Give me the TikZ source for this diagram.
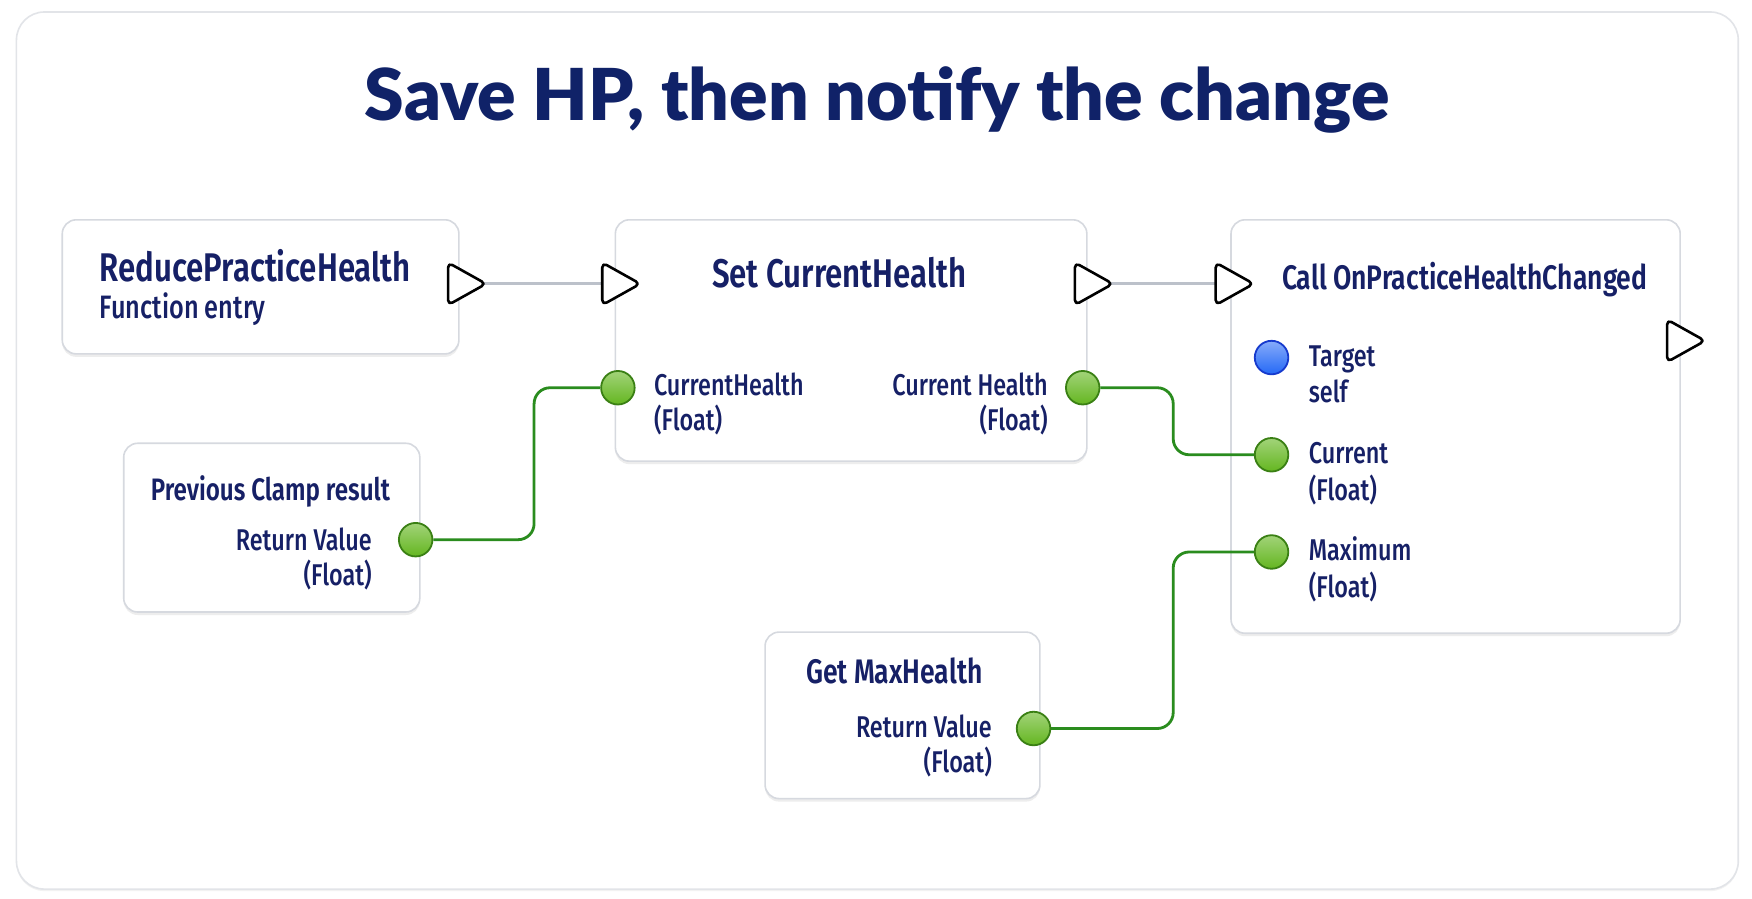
\documentclass[tikz,border=0pt]{standalone}
\usepackage{fontspec}
\setmainfont{Fira Sans}[UprightFont=* Medium, BoldFont=* SemiBold, FakeStretch=0.78]
\newfontfamily\titlefont{Lato}[BoldFont=* Black]
\usetikzlibrary{calc,shadows}

\newlength\px
\setlength\px{0.5587pt}

\definecolor{bpnavy}{RGB}{16,34,104}
\definecolor{bptext}{RGB}{22,32,102}
\definecolor{bpedge}{RGB}{214,217,223}
\definecolor{bpframe}{RGB}{226,228,232}
\definecolor{execgray}{RGB}{188,193,202}
\definecolor{wiregreen}{RGB}{42,140,30}
\definecolor{pingreen}{RGB}{100,182,32}
\definecolor{pingreenedge}{RGB}{58,128,20}
\definecolor{pinblue}{RGB}{36,104,246}
\definecolor{pinblueedge}{RGB}{22,58,205}

\tikzset{
  card/.style={draw=bpframe, fill=white, line width=0.8pt, rounded corners=14pt,
    anchor=north west, inner sep=0pt,
    drop shadow={shadow xshift=0pt, shadow yshift=-1pt, opacity=0.10}},
  bpnode/.style={draw=bpedge, fill=white, line width=0.8pt, rounded corners=7pt,
    anchor=north west, inner sep=0pt,
    drop shadow={shadow xshift=0pt, shadow yshift=-1.5pt, opacity=0.14}},
  nodetitle/.style={text=bptext, font=\bfseries\fontsize{20}{24}\selectfont, inner sep=0pt},
  pinlabel/.style={text=bptext, font=\fontsize{15}{18}\selectfont, inner sep=0pt},
  datapin/.style={circle, minimum size=30\px, inner sep=0pt,
    top color=pingreen!60!white, bottom color=pingreen,
    draw=pingreenedge, line width=0.9pt},
  targetpin/.style={datapin, top color=pinblue!55!white, bottom color=pinblue,
    draw=pinblueedge},
  execpin/.style={draw=black, fill=white, line width=1.3pt, rounded corners=2.5pt,
    line join=round},
  execwire/.style={draw=execgray, line width=1.4pt},
  datawire/.style={draw=wiregreen, line width=1.4pt, rounded corners=8pt}
}

\begin{document}
\begin{tikzpicture}[x=\px, y=-\px]
\useasboundingbox (0,0) rectangle (1568,804);
\fill[white] (0,0) rectangle (1568,804);
\node[card, minimum width=1541\px, minimum height=785\px] (card) at (14,10) {};
\node[anchor=base, inner sep=0pt, text=bpnavy, font=\titlefont\bfseries\fontsize{35.8}{40}\selectfont]
  (title) at (785,108) {Save HP, then notify the change};

% node boxes
\node[bpnode, minimum width=355\px, minimum height=120\px] (entry) at (55,196) {};
\node[bpnode, minimum width=422\px, minimum height=216\px] (set) at (550,196) {};
\node[bpnode, minimum width=402\px, minimum height=370\px] (call) at (1101,196) {};
\node[bpnode, minimum width=265\px, minimum height=151\px] (clamp) at (110,396) {};
\node[bpnode, minimum width=246\px, minimum height=149\px] (getmax) at (684,565) {};

% texts
\node[nodetitle, anchor=base west] (entryName) at (89,252) {ReducePracticeHealth};
\node[pinlabel, anchor=base west, font=\fontsize{16.2}{19}\selectfont] (entryKind) at (89,285) {Function entry};
\node[nodetitle, anchor=base west] (setName) at (637,257) {Set CurrentHealth};
\node[pinlabel, anchor=base west] (setInName) at (585,354) {CurrentHealth};
\node[pinlabel, anchor=base west] (setInType) at (585,385) {(Float)};
\node[pinlabel, anchor=base east] (setOutName) at (938,354) {Current Health};
\node[pinlabel, anchor=base east] (setOutType) at (938,385) {(Float)};
\node[nodetitle, anchor=base west, font=\bfseries\fontsize{17}{20}\selectfont] (callName) at (1147,259) {Call OnPracticeHealthChanged};
\node[pinlabel, anchor=base west] (targetName) at (1171,328) {Target};
\node[pinlabel, anchor=base west] (targetValue) at (1171,360) {self};
\node[pinlabel, anchor=base west] (currentName) at (1171,415) {Current};
\node[pinlabel, anchor=base west] (currentType) at (1171,448) {(Float)};
\node[pinlabel, anchor=base west] (maximumName) at (1171,502) {Maximum};
\node[pinlabel, anchor=base west] (maximumType) at (1171,535) {(Float)};
\node[nodetitle, anchor=base, font=\bfseries\fontsize{15.5}{18}\selectfont] (clampName) at (242,448) {Previous Clamp result};
\node[pinlabel, anchor=base east] (clampOutName) at (333,493) {Return Value};
\node[pinlabel, anchor=base east] (clampOutType) at (333,524) {(Float)};
\node[nodetitle, anchor=base west, font=\bfseries\fontsize{17}{20}\selectfont] (getmaxName) at (721,612) {Get MaxHealth};
\node[pinlabel, anchor=base east] (getmaxOutName) at (888,660) {Return Value};
\node[pinlabel, anchor=base east] (getmaxOutType) at (888,691) {(Float)};

% pins
\node[datapin] (setIn) at (553,347) {};
\node[datapin] (setOut) at (969,347) {};
\node[targetpin] (targetIn) at (1138,320) {};
\node[datapin] (currentIn) at (1138,407) {};
\node[datapin] (maximumIn) at (1138,494) {};
\node[datapin] (clampOut) at (372,483) {};
\node[datapin] (getmaxOut) at (925,652) {};

\coordinate (entryThen) at (418,254);
\coordinate (setExec) at (556,254);
\coordinate (setThen) at (979,254);
\coordinate (callExec) at (1105,254);
\coordinate (callThen) at (1509,305);
\coordinate (bendA) at (478,0);
\coordinate (bendB) at (1050,0);

% wires
\draw[execwire] (entryThen) -- (setExec);
\draw[execwire] (setThen) -- (callExec);
\draw[datawire] (clampOut) -- (clampOut -| bendA) -- (bendA |- setIn) -- (setIn);
\draw[datawire] (setOut) -- (setOut -| bendB) -- (bendB |- currentIn) -- (currentIn);
\draw[datawire] (getmaxOut) -- (getmaxOut -| bendB) -- (bendB |- maximumIn) -- (maximumIn);

\foreach \p in {entryThen,setExec,setThen,callExec,callThen}
  \draw[execpin] ($(\p)+(-17,-19)$) -- ($(\p)+(17,0)$) -- ($(\p)+(-17,19)$) -- cycle;
\end{tikzpicture}
\end{document}
